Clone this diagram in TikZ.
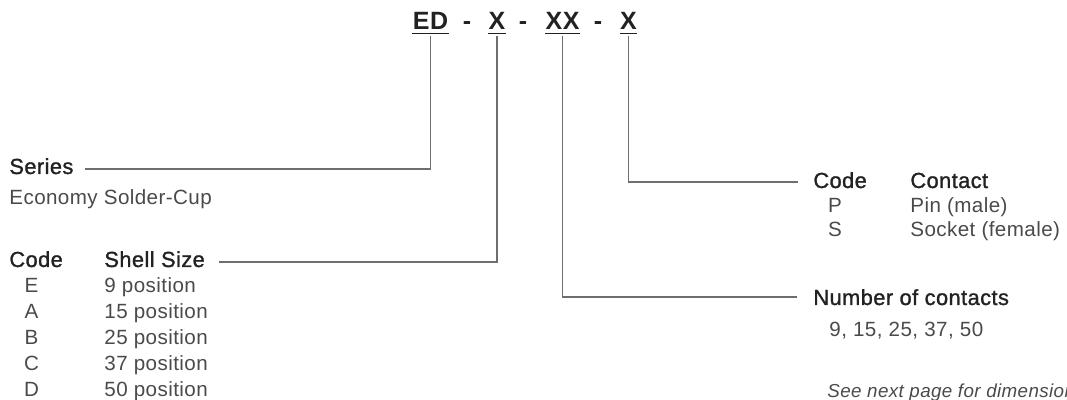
\documentclass[tikz,border=0pt]{standalone}
\usepackage{fontspec}
\setsansfont{Liberation Sans}[LetterSpace=2]
\newfontfamily\headfont{Liberation Sans}[FakeBold=1.2, LetterSpace=2]
\usetikzlibrary{positioning, calc}
\definecolor{cink}{HTML}{222222}
\definecolor{ctext}{HTML}{4A4A4A}
\definecolor{cline}{HTML}{6E6E6E}
\tikzset{
  every picture/.style={font=\sffamily, x=0.5pt, y=-0.5pt},
  title/.style={font=\sffamily\bfseries\fontsize{12.5}{14}\selectfont, text=cink, inner sep=0pt, anchor=base},
  head/.style={font=\headfont\fontsize{10.9}{12}\selectfont, text=cink, inner sep=0pt, anchor=base west},
  note/.style={font=\sffamily\fontsize{10.3}{12}\selectfont, text=ctext, inner sep=0pt, anchor=base west},
  lead/.style={draw=cline, line width=0.75pt},
  uline/.style={draw=cink, line width=0.6pt},
}
\begin{document}
\begin{tikzpicture}
  \useasboundingbox (0,0) rectangle (1067,400);
  \clip (0,0) rectangle (1067,400);
  \node[title] (ed) at (430.5,30) {ED};
  \node[title] (dash1) at (467,30) {-};
  \node[title] (xshell) at (497,30) {X};
  \node[title] (dash2) at (523,30) {-};
  \node[title] (xxcount) at (562.5,30) {XX};
  \node[title] (dash3) at (598,30) {-};
  \node[title] (xcontact) at (628.5,30) {X};
  \foreach \n in {ed, xshell, xxcount, xcontact}
    \draw[uline] ([yshift=-1.6pt]\n.base west) -- ([yshift=-1.6pt]\n.base east);

  \node[head] (series) at (9,174) {Series};
  \node[note] (economy) at (9,205) {Economy Solder-Cup};

  \node[head] (codea) at (9,267) {Code};
  \node[head] (shellhd) at (104,267) {Shell Size};
  \foreach \c/\s [count=\i] in {E/9, A/15, B/25, C/37, D/50} {
    \node[note, anchor=base] (shellc\i) at (31.5,267+26*\i) {\c};
    \node[note] (shells\i) at (104,267+26*\i) {\s\ position};
  }

  \node[head] (codeb) at (813,188) {Code};
  \node[head] (contacthd) at (910,188) {Contact};
  \foreach \c/\s [count=\i] in {P/Pin (male), S/Socket (female)} {
    \node[note, anchor=base] (contc\i) at (835,188+24.5*\i) {\c};
    \node[note] (conts\i) at (910,188+24.5*\i) {\s};
  }

  \node[head] (count) at (813,305) {Number of contacts};
  \node[note] (countv) at (829,337) {9, 15, 25, 37, 50};
  \node[note, font=\sffamily\itshape\fontsize{9.4}{11}\selectfont] (seenext) at (827,398) {See next page for dimensions};

  \draw[lead] ([yshift=-3pt]ed.base) |- ([xshift=5.5pt, yshift=2.5pt]series.base east);
  \draw[lead] ([yshift=-3pt]xshell.base) |- ([xshift=7pt, yshift=2.5pt]shellhd.base east);
  \draw[lead] ([yshift=-3pt]xcontact.base) |- ([xshift=-7.5pt, yshift=3pt]codeb.base west);
  \draw[lead] ([yshift=-3pt]xxcount.base) |- ([xshift=-8pt, yshift=4pt]count.base west);
\end{tikzpicture}
\end{document}
